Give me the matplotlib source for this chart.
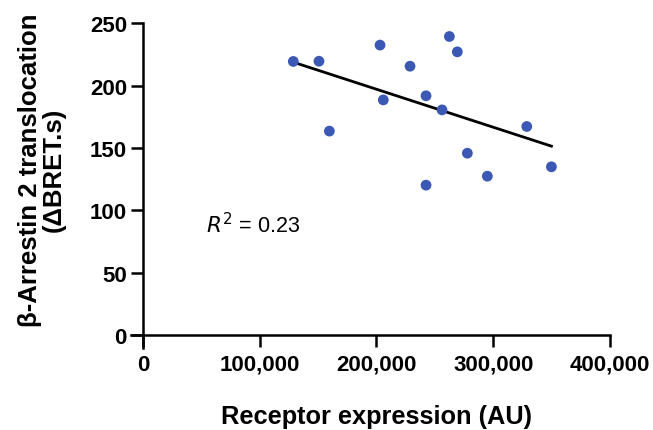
import numpy as np
import matplotlib.pyplot as plt

# receptor expression (AU) vs beta-arrestin 2 translocation
expr = [128800, 150800, 203100, 262500, 269300, 228800, 205900, 242500,
        256200, 159700, 328800, 277900, 295000, 242500, 349900]
bret = [219.3, 219.5, 232.4, 239.3, 227.0, 215.5, 188.5, 191.8,
        180.5, 163.5, 167.2, 145.8, 127.4, 120.2, 134.9]

xticks = [0, 100000, 200000, 300000, 400000]
xlabels = ['0', '100,000', '200,000', '300,000', '400,000']
yticks = [0, 50, 100, 150, 200, 250]

plt.rcParams['font.family'] = ['Liberation Sans', 'DejaVu Sans']

fig = plt.figure(figsize=(6.53, 4.31), dpi=100)
ax = fig.add_axes([0.201, 0.191, 0.733, 0.753])

x = np.array(expr)
y = np.array(bret)
slope, icpt = np.polyfit(x, y, 1)
xf = np.array([x.min(), x.max()])
ax.plot(xf, slope * xf + icpt, color='black', lw=2)
ax.scatter(x, y, s=60, color='#3b58b4', zorder=3, edgecolors='none')

ax.set_xlim(-10000, 400000)
ax.set_ylim(-10, 250)
for side in ['top', 'right']:
    ax.spines[side].set_visible(False)
ax.spines['left'].set_position(('data', 0))
ax.spines['bottom'].set_position(('data', 0))
for side in ['left', 'bottom']:
    ax.spines[side].set_linewidth(1.8)

ax.set_xticks(xticks)
ax.set_xticklabels(xlabels)
ax.set_yticks(yticks)
ax.tick_params(width=1.8, length=8.5, labelsize=16)
ax.tick_params(axis='y', pad=3)
ax.tick_params(axis='x', pad=5)
for lab in ax.get_xticklabels() + ax.get_yticklabels():
    lab.set_fontweight('bold')

ax.set_xlabel('Receptor expression (AU)', fontsize=18.3, fontweight='bold')
ax.xaxis.label.set_va('center')
ax.xaxis.set_label_coords(0.512, -0.211)
ax.set_ylabel('β-Arrestin 2 translocation\n(ΔBRET.s)', fontsize=18.5,
              fontweight='bold', linespacing=1.0)
ax.yaxis.label.set_va('center')
ax.yaxis.set_label_coords(-0.1875, 0.55)

ax.text(54000, 89, r'$R^2$ = 0.23', fontsize=15.5, va='center')

fig.savefig('out.png', dpi=100)
